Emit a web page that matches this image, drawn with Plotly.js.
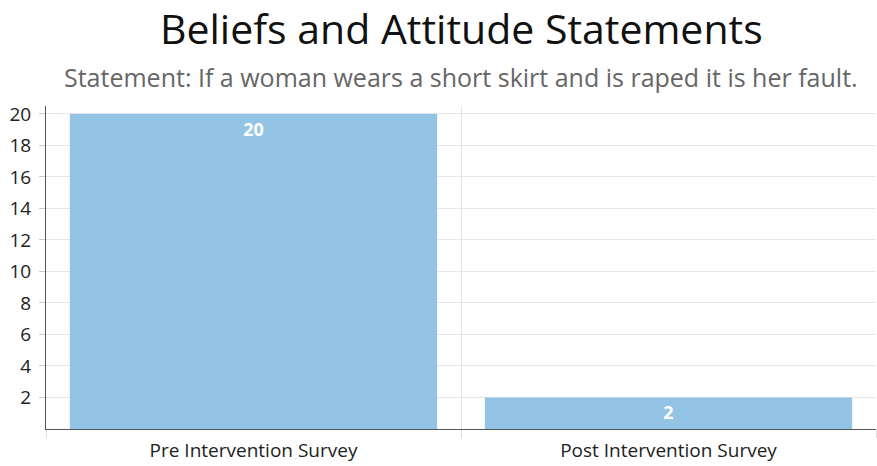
<!DOCTYPE html>
<html>
<head>
<meta charset="utf-8">
<script src="https://cdn.plot.ly/plotly-3.0.1.min.js"></script>
<style>html,body{margin:0;padding:0;background:#fff;}#chart{width:877px;height:466px;}</style>
</head>
<body>
<div id="chart"></div>
<script>
const categories = ["Pre Intervention Survey", "Post Intervention Survey"];
const values = [20, 2];
const yTicks = [2, 4, 6, 8, 10, 12, 14, 16, 18, 20];
const titleText = "Beliefs and Attitude Statements";
const subtitleText = "Statement: If a woman wears a short skirt and is raped it is her fault.";

const trace = {
  type: "bar",
  x: categories,
  y: values,
  text: values.map(String),
  textposition: "inside",
  insidetextanchor: "end",
  textfont: {family: "Open Sans", size: 18, color: "#ffffff", weight: 700},
  marker: {color: "#93c4e5"},
  hoverinfo: "none"
};

const layout = {
  width: 877, height: 466,
  margin: {l: 46, r: 1, t: 106, b: 37},
  paper_bgcolor: "#ffffff", plot_bgcolor: "#ffffff",
  font: {family: "Open Sans", color: "#222"},
  bargap: 0.115,
  showlegend: false,
  xaxis: {
    type: "category",
    tickson: "boundaries",
    ticks: "outside", ticklen: 8, tickcolor: "#dddddd", tickwidth: 1,
    ticklabelstandoff: 4,
    showgrid: true, gridcolor: "#e6e6e6", gridwidth: 1,
    showline: true, linecolor: "#555", linewidth: 1,
    tickfont: {family: "Open Sans", size: 19, color: "#222"},
    fixedrange: true
  },
  yaxis: {
    range: [0, 20.5],
    tickvals: yTicks,
    ticks: "outside", ticklen: 6, tickcolor: "#cccccc",
    ticklabelstandoff: 4,
    showgrid: true, gridcolor: "#e6e6e6",
    showline: true, linecolor: "#555", linewidth: 1,
    zeroline: false,
    tickfont: {family: "Open Sans", size: 19, color: "#222"},
    fixedrange: true
  },
  annotations: [
    {text: titleText, xref: "paper", yref: "paper", x: 0.5, y: 1, yshift: 78,
     xanchor: "center", yanchor: "middle", showarrow: false,
     font: {family: "Open Sans", size: 41, color: "#111"}},
    {text: subtitleText, xref: "paper", yref: "paper", x: 0.5, y: 1, yshift: 29,
     xanchor: "center", yanchor: "middle", showarrow: false,
     font: {family: "Open Sans", size: 25, color: "#666"}}
  ]
};

Plotly.newPlot("chart", [trace], layout, {displayModeBar: false, staticPlot: true});
</script>
</body>
</html>
